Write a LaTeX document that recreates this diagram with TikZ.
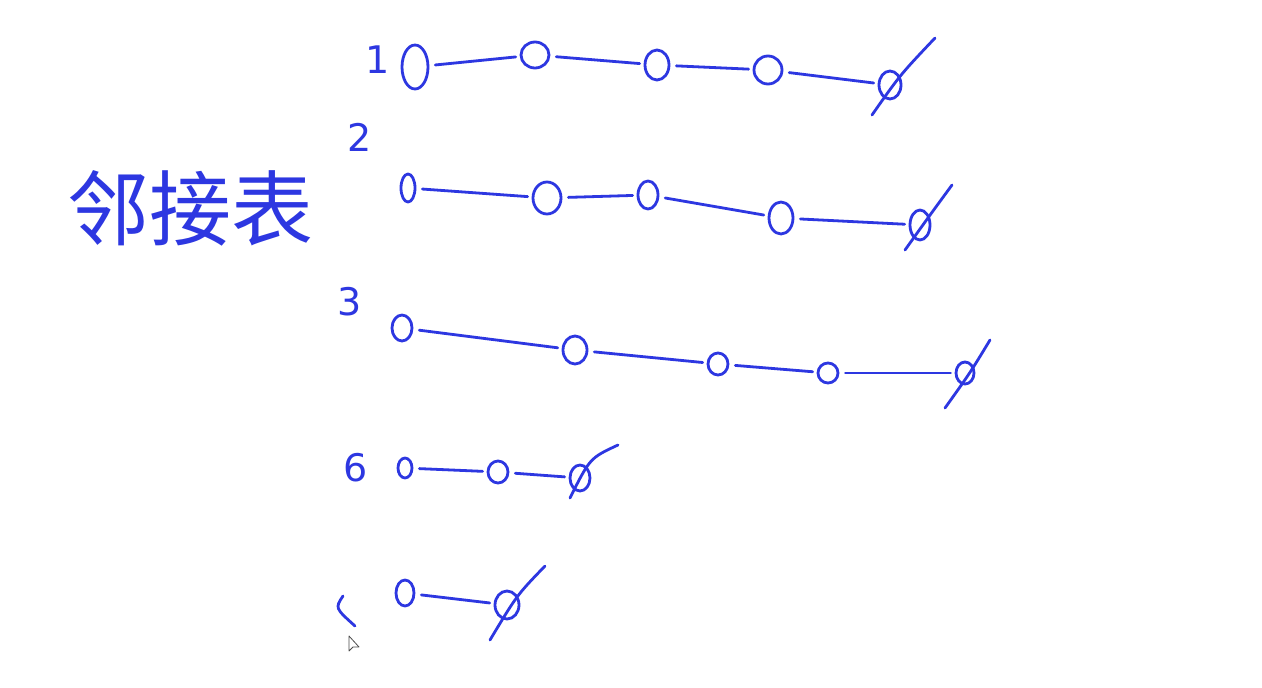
\documentclass[tikz,border=0pt]{standalone}
\usepackage{fontspec}
\newfontfamily\cjk{Noto Sans CJK SC}
\setmainfont{DejaVu Sans}
\usetikzlibrary{shapes.geometric,calc}
\definecolor{hand}{RGB}{45,55,225}
\tikzset{
  pen/.style={draw=hand, line width=2.8pt, line cap=round, line join=round},
  cell/.style={pen, ellipse, inner sep=0pt, minimum width=#1},
  link/.style={pen, shorten <=6pt, shorten >=4pt},
  lbl/.style={text=hand, font=\fontsize{38}{38}\selectfont, inner sep=0pt},
}
\begin{document}
\begin{tikzpicture}[x=1pt,y=-1pt]
\useasboundingbox (0,0) rectangle (1262,688);
\fill[white] (0,0) rectangle (1262,688);
% title
\node[text=hand, font=\cjk\fontsize{82}{82}\selectfont, inner sep=0pt] (title) at (190,208) {邻接表};
% row labels
\node[lbl] (l1) at (378,60) {1};
\node[lbl] (l2) at (360,137) {2};
\node[lbl] (l3) at (350,302) {3};
\node[lbl] (l4) at (356,468) {6};
% row 1
\node[cell=26pt, minimum height=44pt] (a0) at (415,67) {};
\node[cell=28pt, minimum height=26pt] (a1) at (535,55) {};
\node[cell=24pt, minimum height=30pt] (a2) at (657,65) {};
\node[cell=28pt, minimum height=28pt] (a3) at (768,70) {};
\node[cell=22pt, minimum height=28pt] (a4) at (890,85) {};
\draw[link] (a0) -- (a1);
\draw[link] (a1) -- (a2);
\draw[link] (a2) -- (a3);
\draw[link] (a3) -- (a4);
\draw[pen] ($(a4)+(-18,30)$) .. controls ($(a4)+(10,-10)$) .. ($(a4)+(45,-47)$);
% row 2
\node[cell=14pt, minimum height=28pt] (b0) at (408,188) {};
\node[cell=28pt, minimum height=32pt] (b1) at (547,198) {};
\node[cell=20pt, minimum height=28pt] (b2) at (648,195) {};
\node[cell=24pt, minimum height=32pt] (b3) at (781,218) {};
\node[cell=20pt, minimum height=30pt] (b4) at (920,225) {};
\draw[link] (b0) -- (b1);
\draw[link] (b1) -- (b2);
\draw[link] (b2) -- (b3);
\draw[link] (b3) -- (b4);
\draw[pen] ($(b4)+(-15,25)$) .. controls ($(b4)+(10,-10)$) .. ($(b4)+(32,-40)$);
% row 3
\node[cell=20pt, minimum height=26pt] (c0) at (402,328) {};
\node[cell=24pt, minimum height=28pt] (c1) at (575,350) {};
\node[cell=20pt, minimum height=22pt] (c2) at (718,364) {};
\node[cell=20pt, minimum height=20pt] (c3) at (828,373) {};
\node[cell=18pt, minimum height=22pt] (c4) at (965,373) {};
\draw[link] (c0) -- (c1);
\draw[link] (c1) -- (c2);
\draw[link] (c2) -- (c3);
\draw[link] (c3) -- (c4);
\draw[pen] ($(c4)+(-20,35)$) .. controls ($(c4)+(5,0)$) .. ($(c4)+(25,-33)$);
% row 4
\node[cell=14pt, minimum height=20pt] (d0) at (405,468) {};
\node[cell=20pt, minimum height=22pt] (d1) at (498,472) {};
\node[cell=20pt, minimum height=26pt] (d2) at (580,478) {};
\draw[link] (d0) -- (d1);
\draw[link] (d1) -- (d2);
\draw[pen] ($(d2)+(-10,20)$) .. controls ($(d2)+(10,-20)$) .. ($(d2)+(38,-33)$);
% row 5
\draw[pen] (343,596) .. controls (335,608) .. (355,626);
\node[cell=18pt, minimum height=26pt] (e0) at (405,593) {};
\node[cell=24pt, minimum height=28pt] (e1) at (507,605) {};
\draw[link] (e0) -- (e1);
\draw[pen] ($(e1)+(-17,35)$) .. controls ($(e1)+(10,-10)$) .. ($(e1)+(38,-39)$);
% mouse pointer
\draw[black!70, line width=0.8pt, fill=white, line join=round] (349,636) -- (349,651) -- (353,647) -- (359,647) -- cycle;
\end{tikzpicture}
\end{document}
